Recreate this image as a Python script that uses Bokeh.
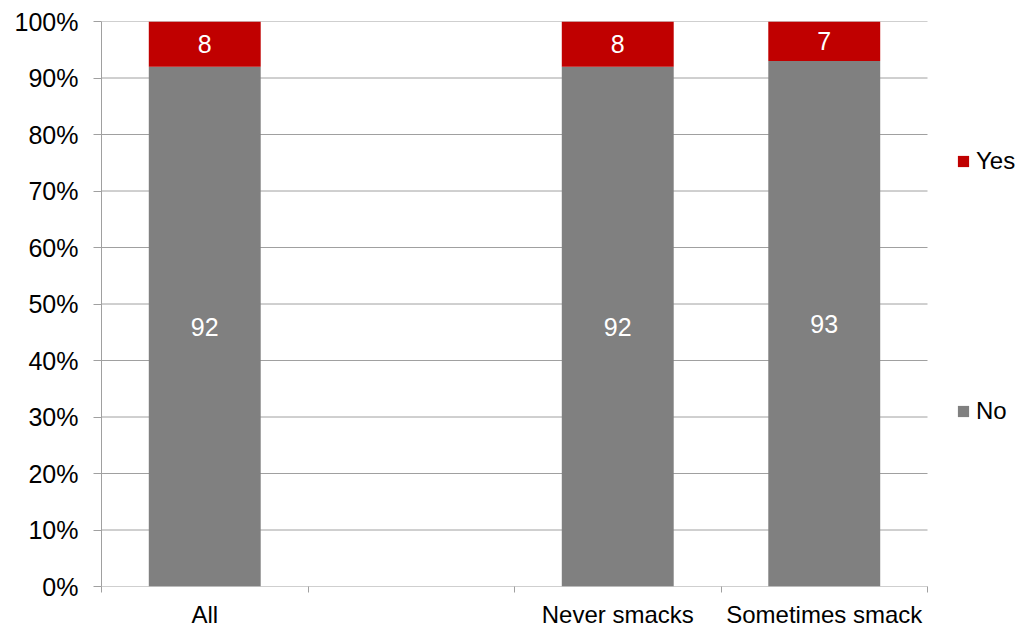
from bokeh.plotting import figure
from bokeh.models import (ColumnDataSource, FixedTicker, PrintfTickFormatter, Range1d,
                          Legend, LegendItem)
from bokeh.core.properties import value
from bokeh.embed import file_html
from bokeh.resources import INLINE
import math

categories = ["All", "", "Never smacks", "Sometimes smack"]
no_vals = [92, float("nan"), 92, 93]
yes_vals = [8, float("nan"), 8, 7]
y_ticks = [0, 10, 20, 30, 40, 50, 60, 70, 80, 90, 100]

RED = "#C00000"
GRAY = "#808080"
LINE = "#A0A0A0"
FONT = "Liberation Sans"

n = len(categories)
centers = [i + 0.5 for i in range(n)]
src = ColumnDataSource(dict(x=centers, no=no_vals, yes=yes_vals))

# frame spans to the right edge so the legend can sit beside the bars
p = figure(width=1023, height=630, output_backend="svg", toolbar_location=None,
           x_range=Range1d(0, n * 922 / 826), y_range=Range1d(0, 100),
           min_border_left=101, min_border_right=0, min_border_top=21, min_border_bottom=43)
p.outline_line_color = None
p.background_fill_color = "white"
p.border_fill_color = "white"

# gridlines limited to the category area
p.segment(x0=[0] * len(y_ticks), x1=[n] * len(y_ticks), y0=y_ticks, y1=y_ticks,
          line_color=LINE, line_width=1)

rs = p.vbar_stack(["no", "yes"], x="x", width=0.542, source=src,
                  color=[GRAY, RED], line_color=None)

# labels
lx, ly, lt = [], [], []
for c, nv, yv in zip(centers, no_vals, yes_vals):
    if not math.isnan(nv):
        lx.append(c); ly.append(nv / 2); lt.append(str(nv))
        lx.append(c); ly.append(nv + yv / 2); lt.append(str(yv))
p.text(x=lx, y=ly, text=lt, text_align="center", text_baseline="middle",
       text_color="white", text_font=value(FONT), text_font_size="25px")

# y axis
p.yaxis.ticker = FixedTicker(ticks=y_ticks)
p.yaxis.formatter = PrintfTickFormatter(format="%d%%")
p.yaxis.axis_line_color = LINE
p.yaxis.major_tick_line_color = LINE
p.yaxis.major_tick_in = 0
p.yaxis.major_tick_out = 8
p.yaxis.minor_tick_line_color = None
p.yaxis.major_label_text_font = FONT
p.yaxis.major_label_text_font_size = "25px"
p.yaxis.major_label_text_color = "black"
p.yaxis.major_label_standoff = 15

# x axis
p.xaxis.ticker = FixedTicker(ticks=centers, minor_ticks=list(range(n + 1)))
p.xaxis.major_label_overrides = {c: lab for c, lab in zip(centers, categories)}
p.xaxis.axis_line_color = None
p.xaxis.major_tick_line_color = None
p.xaxis.major_tick_out = 6
p.xaxis.major_tick_in = 0
p.xaxis.minor_tick_line_color = LINE
p.xaxis.minor_tick_out = 6
p.xaxis.minor_tick_in = 0
p.xaxis.major_label_text_font = FONT
p.xaxis.major_label_text_font_size = "24px"
p.xaxis.major_label_text_color = "black"
p.xaxis.major_label_standoff = 8

p.xgrid.grid_line_color = None
p.ygrid.grid_line_color = None

legend = Legend(items=[LegendItem(label="Yes", renderers=[rs[1]]),
                       LegendItem(label="No", renderers=[rs[0]])],
                location=(855, 161), orientation="vertical")
legend.border_line_color = None
legend.background_fill_alpha = 0
legend.label_text_font = FONT
legend.label_text_font_size = "24px"
legend.label_text_color = "black"
legend.glyph_width = 14
legend.glyph_height = 14
legend.label_height = 25
legend.label_standoff = 6
legend.spacing = 222
legend.padding = 0
legend.margin = 0
p.add_layout(legend, "center")

open("out.html", "w").write(file_html(p, INLINE))
